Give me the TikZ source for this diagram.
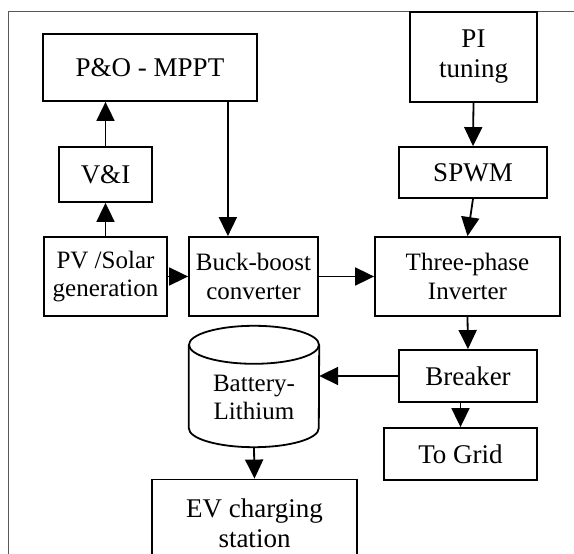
\documentclass[tikz,border=0pt]{standalone}
\usepackage{fontspec}
\setmainfont{Liberation Serif}
\usetikzlibrary{arrows.meta,calc}
\tikzset{
  >={Triangle[length=19pt,width=18pt]},
  sframe/.style={draw=black!65, line width=1pt},
  sline/.style={draw=black, line width=1.8pt},
  sbox/.style={sline, inner sep=0pt, align=center,
               font=\fontsize{27}{30}\selectfont},
  stwo/.style={sbox, font=\fontsize{25}{28.5}\selectfont},
  sarr/.style={->, black, line width=1.8pt},
}
\begin{document}
\begin{tikzpicture}[x=1pt,y=1pt]
  \useasboundingbox (0,0) rectangle (574,554);
  \clip (0,0) rectangle (574,554);

  % moldura
  \draw[sframe] (8,-20) -- (8,542) -- (600,542);

  % lado fotovoltaico
  \node[sbox, minimum width=214pt, minimum height=67pt] (po) at (150,486.5) {P\&O - MPPT};
  \node[sbox, minimum width=93pt, minimum height=55pt] (vi) at (105.5,379.5) {V\&I};
  \node[stwo, minimum width=123pt, minimum height=79pt] (pv) at (105.5,277.5) {PV /Solar\\generation};
  \node[stwo, minimum width=129pt, minimum height=79pt] (bb) at (253.5,277.5) {Buck-boost\\converter};

  % controle e inversor
  \node[sbox, minimum width=127pt, minimum height=90pt] (pi) at (473.5,497) {PI\\tuning};
  \node[sbox, minimum width=148pt, minimum height=51pt] (spwm) at (473,381.5) {SPWM};
  \node[stwo, minimum width=185pt, minimum height=79pt] (inv) at (467.5,277.5) {Three-phase\\Inverter};
  \node[sbox, minimum width=138pt, minimum height=52pt] (brk) at (468,178) {Breaker};
  \node[sbox, minimum width=153pt, minimum height=52pt] (grid) at (460.5,100) {To Grid};

  % bateria (cilindro)
  \node[minimum width=130pt, minimum height=121pt, inner sep=0pt] (bat) at (254,167.5) {};
  \draw[sline] ($(bat.north)+(0,-19)$) ellipse [x radius=65, y radius=19];
  \draw[sline] ($(bat.north west)+(0,-19)$) -- ($(bat.south west)+(0,19)$)
    arc[start angle=180, end angle=360, x radius=65, y radius=19]
    -- ($(bat.north east)+(0,-19)$);
  \node[align=center, font=\fontsize{25}{28.5}\selectfont] (batlbl) at ($(bat)+(0,-11)$) {Battery-\\Lithium};

  \node[sbox, minimum width=205pt, minimum height=87pt] (ev) at (254.5,31) {EV charging\\station};

  % ligações
  \draw[sarr] (vi.north) -- (vi.north |- po.south);
  \draw[sarr] (pv.north) -- (vi.south);
  \draw[sarr] ([xshift=-30pt]po.south east) -- ([xshift=-30pt]po.south east |- bb.north);
  \draw[sarr] (pv.east) -- (bb.west);
  \draw[sarr] (bb.east) -- (inv.west);
  \draw[sarr] (pi.south) -- (spwm.north);
  \draw[sarr] (spwm.south) -- (inv.north);
  \draw[sarr] (inv.south) -- (brk.north);
  \draw[sarr] (brk.west) -- (brk.west -| bat.east);
  \draw[sarr] (brk.south -| grid.north) -- (grid.north);
  \draw[sarr] (bat.south) -- (ev.north);

\end{tikzpicture}
\end{document}
